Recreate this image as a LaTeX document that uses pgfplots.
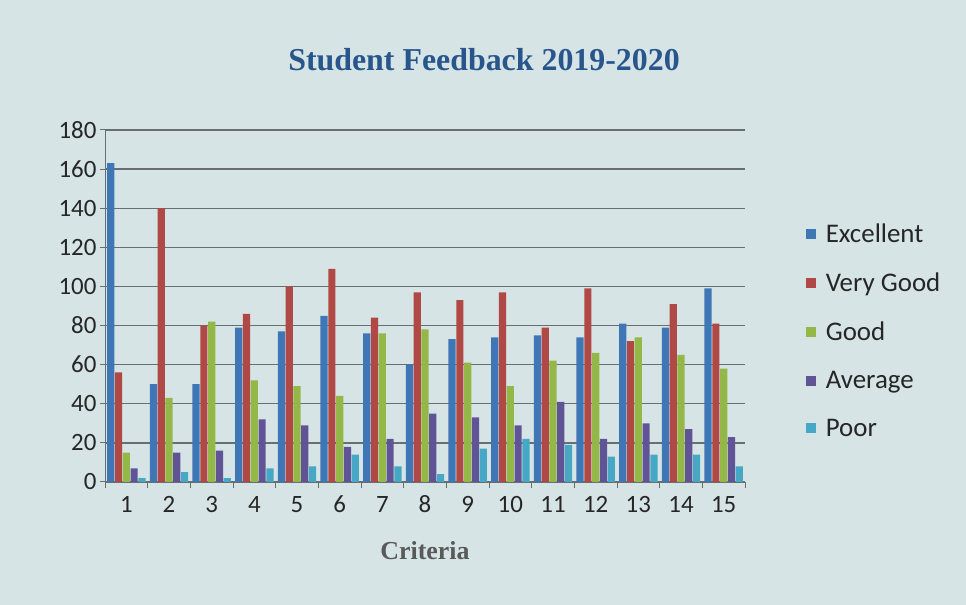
\documentclass[border=0pt]{standalone}
\usepackage{pgfplots}
\pgfplotsset{compat=1.18}
\usepackage{fontspec}
\setmainfont{Carlito}[Numbers=Lining]
\newfontfamily\serifbf{Liberation Serif}
\definecolor{bg}{RGB}{214,228,230}
\definecolor{cExc}{RGB}{62,118,182}
\definecolor{cVG}{RGB}{176,72,70}
\definecolor{cGood}{RGB}{148,184,72}
\definecolor{cAvg}{RGB}{96,84,150}
\definecolor{cPoor}{RGB}{70,168,196}
\definecolor{titleblue}{RGB}{40,86,140}
\definecolor{gridc}{RGB}{105,110,112}
\pgfplotstableread{
c Exc VG Good Avg Poor
1 163 56 15 7 2
2 50 140 43 15 5
3 50 80 82 16 2
4 79 86 52 32 7
5 77 100 49 29 8
6 85 109 44 18 14
7 76 84 76 22 8
8 60 97 78 35 4
9 73 93 61 33 17
10 74 97 49 29 22
11 75 79 62 41 19
12 74 99 66 22 13
13 81 72 74 30 14
14 79 91 65 27 14
15 99 81 58 23 8
}\data
\begin{document}
\begin{tikzpicture}[x=1bp,y=1bp]
\fill[bg] (0,0) rectangle (966,605);
\node[font=\serifbf\bfseries\fontsize{32}{36}\selectfont, text=titleblue] at (484,545) {Student Feedback 2019-2020};
\begin{axis}[
  at={(105bp,123bp)}, anchor=south west,
  scale only axis, width=640bp, height=352bp,
  ymin=0, ymax=180, ytick={0,20,...,180},
  xmin=0.5, xmax=15.5,
  xtick={1,...,15},
  minor xtick={0.5,1.5,...,15.5},
  major x tick style={draw=none},
  minor tick length=6bp,
  tick align=outside,
  major tick length=5bp,
  ymajorgrids,
  grid style={gridc, line width=1.3pt},
  axis x line*=bottom, axis y line*=left,
  axis line style={gridc, line width=1pt},
  every tick/.style={gridc, line width=1pt},
  ticklabel style={font=\fontsize{25}{30}\selectfont, text=black!85},
  xticklabel style={anchor=base, yshift=-26bp},
  /pgf/number format/assume math mode=true,
  xlabel={\serifbf\bfseries Criteria},
  xlabel style={font=\fontsize{26}{30}\selectfont, text=black!65, yshift=-22bp},
  ybar=0.6bp, bar width=7.2bp,
  legend style={at={(1.09,0.43)}, anchor=west, draw=none, fill=none,
    font=\fontsize{27}{32}\selectfont, row sep=25bp, text=black!85},
  legend cell align=left,
  legend image code/.code={\fill[#1] (0bp,-5bp) rectangle (10bp,5bp); \path (18bp,0bp);},
]
\addplot[fill=cExc, draw=none] table[x=c,y=Exc]{\data};
\addplot[fill=cVG, draw=none] table[x=c,y=VG]{\data};
\addplot[fill=cGood, draw=none] table[x=c,y=Good]{\data};
\addplot[fill=cAvg, draw=none] table[x=c,y=Avg]{\data};
\addplot[fill=cPoor, draw=none] table[x=c,y=Poor]{\data};
\legend{Excellent,Very Good,Good,Average,Poor}
\end{axis}
\end{tikzpicture}
\end{document}
